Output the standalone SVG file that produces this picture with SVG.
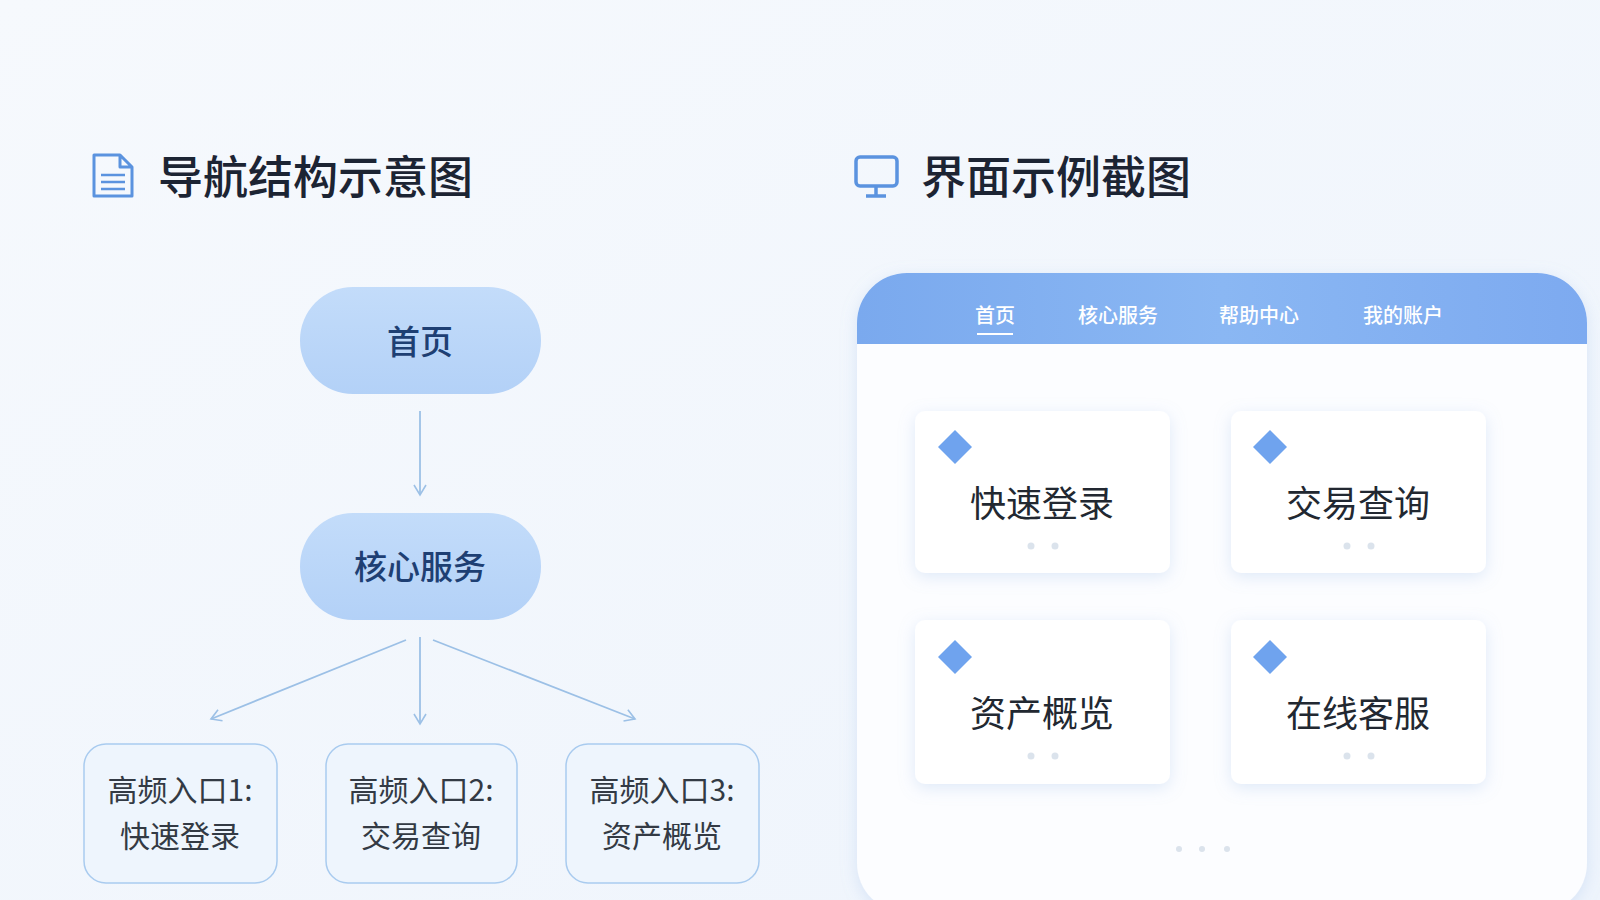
<svg xmlns="http://www.w3.org/2000/svg" width="1600" height="900" viewBox="0 0 1600 900">
<defs>
<linearGradient id="bg" x1="0" y1="0" x2="1" y2="1"><stop offset="0" stop-color="#f6f9fd"/><stop offset="1" stop-color="#eef4fc"/></linearGradient>
<linearGradient id="hd" x1="0" y1="0" x2="1" y2="0"><stop offset="0" stop-color="#7aa9ee"/><stop offset="0.5" stop-color="#8ab7f3"/><stop offset="1" stop-color="#7daaf0"/></linearGradient>
<linearGradient id="pill" x1="0" y1="0" x2="0" y2="1"><stop offset="0" stop-color="#c3dcfa"/><stop offset="1" stop-color="#b3d1f7"/></linearGradient>
<filter id="sh" x="-20%" y="-20%" width="140%" height="140%"><feDropShadow dx="0" dy="4" stdDeviation="8" flood-color="#9bbbe8" flood-opacity="0.3"/></filter>
<marker id="ah" markerWidth="16" markerHeight="16" refX="12" refY="8" orient="auto" markerUnits="userSpaceOnUse"><path d="M2,2 L12,8 L2,14" fill="none" stroke="#9cc0e6" stroke-width="1.6"/></marker>
<style>
.t{font-family:"Noto Sans CJK SC","Noto Sans",sans-serif}
.title{font-size:45px;font-weight:500;fill:#1c2433}
.pt{font-size:33px;font-weight:500;fill:#1e3f73;text-anchor:middle}
.bt{font-size:30px;fill:#333a44;text-anchor:middle}
.tab{font-size:20px;font-weight:500;fill:#ffffff;text-anchor:middle}
.ct{font-size:36px;fill:#222831;text-anchor:middle}
.conn{stroke:#9cc0e6;stroke-width:1.8;fill:none}
.box{fill:#eef5fd;stroke:#a9cbef;stroke-width:1.5}
.card{fill:#ffffff}
.dia{fill:#6fa3ee}
.dot{fill:#dbe3ec}
</style>
</defs>
<rect width="1600" height="900" fill="url(#bg)"/>
<g id="title-left">
<path d="M94,155 H120 L132,167 V196 H94 Z M120,155 V167 H132" fill="none" stroke="#5b93df" stroke-width="3" stroke-linejoin="round"/>
<line x1="101" y1="175" x2="125" y2="175" stroke="#5b93df" stroke-width="2.5"/>
<line x1="101" y1="182" x2="125" y2="182" stroke="#5b93df" stroke-width="2.5"/>
<line x1="101" y1="189" x2="125" y2="189" stroke="#5b93df" stroke-width="2.5"/>
<text class="t title" x="158" y="194">导航结构示意图</text>
</g>
<g id="title-right">
<rect x="856" y="157" width="41" height="29" rx="4" fill="none" stroke="#5b93df" stroke-width="3.5"/>
<line x1="876" y1="186" x2="876" y2="195" stroke="#5b93df" stroke-width="3.5"/>
<line x1="866" y1="196" x2="886" y2="196" stroke="#5b93df" stroke-width="3.5"/>
<text class="t title" x="921" y="194">界面示例截图</text>
</g>
<g id="connectors">
<line class="conn" x1="420" y1="411" x2="420" y2="495" marker-end="url(#ah)"/>
<line class="conn" x1="406" y1="640" x2="211" y2="719" marker-end="url(#ah)"/>
<line class="conn" x1="420" y1="637" x2="420" y2="724" marker-end="url(#ah)"/>
<line class="conn" x1="433" y1="640" x2="635" y2="719" marker-end="url(#ah)"/>
</g>
<g id="node-home"><rect x="300" y="287" width="241" height="107" rx="53" fill="url(#pill)"/><text class="t pt" x="420" y="354">首页</text></g>
<g id="node-core"><rect x="300" y="513" width="241" height="107" rx="53" fill="url(#pill)"/><text class="t pt" x="420" y="579">核心服务</text></g>
<g id="node-e1"><rect class="box" x="84" y="744" width="193" height="139" rx="22"/><text class="t bt" x="180" y="801">高频入口1:</text><text class="t bt" x="180" y="847">快速登录</text></g>
<g id="node-e2"><rect class="box" x="326" y="744" width="191" height="139" rx="22"/><text class="t bt" x="421" y="801">高频入口2:</text><text class="t bt" x="421" y="847">交易查询</text></g>
<g id="node-e3"><rect class="box" x="566" y="744" width="193" height="139" rx="22"/><text class="t bt" x="662" y="801">高频入口3:</text><text class="t bt" x="662" y="847">资产概览</text></g>
<g id="panel">
<rect x="857" y="273" width="730" height="640" rx="50" fill="#fcfdff" filter="url(#sh)"/>
<path d="M857,344 V323 A50,50 0 0 1 907,273 H1537 A50,50 0 0 1 1587,323 V344 Z" fill="url(#hd)"/>
<text class="t tab" x="995" y="323">首页</text>
<line x1="977" y1="334" x2="1013" y2="334" stroke="#ffffff" stroke-width="2"/>
<text class="t tab" x="1118" y="323">核心服务</text>
<text class="t tab" x="1259" y="323">帮助中心</text>
<text class="t tab" x="1403" y="323">我的账户</text>
<circle class="dot" cx="1179" cy="849" r="3"/><circle class="dot" cx="1202" cy="849" r="3"/><circle class="dot" cx="1227" cy="849" r="3"/>
</g>
<g id="card-1"><rect class="card" x="915" y="411" width="255" height="162" rx="10" filter="url(#sh)"/><path class="dia" d="M955,430 L972,447 L955,464 L938,447 Z"/><text class="t ct" x="1042" y="517">快速登录</text><circle class="dot" cx="1031" cy="546" r="3.5"/><circle class="dot" cx="1055" cy="546" r="3.5"/></g>
<g id="card-2"><rect class="card" x="1231" y="411" width="255" height="162" rx="10" filter="url(#sh)"/><path class="dia" d="M1270,430 L1287,447 L1270,464 L1253,447 Z"/><text class="t ct" x="1358" y="517">交易查询</text><circle class="dot" cx="1347" cy="546" r="3.5"/><circle class="dot" cx="1371" cy="546" r="3.5"/></g>
<g id="card-3"><rect class="card" x="915" y="620" width="255" height="164" rx="10" filter="url(#sh)"/><path class="dia" d="M955,640 L972,657 L955,674 L938,657 Z"/><text class="t ct" x="1042" y="727">资产概览</text><circle class="dot" cx="1031" cy="756" r="3.5"/><circle class="dot" cx="1055" cy="756" r="3.5"/></g>
<g id="card-4"><rect class="card" x="1231" y="620" width="255" height="164" rx="10" filter="url(#sh)"/><path class="dia" d="M1270,640 L1287,657 L1270,674 L1253,657 Z"/><text class="t ct" x="1358" y="727">在线客服</text><circle class="dot" cx="1347" cy="756" r="3.5"/><circle class="dot" cx="1371" cy="756" r="3.5"/></g>
</svg>
